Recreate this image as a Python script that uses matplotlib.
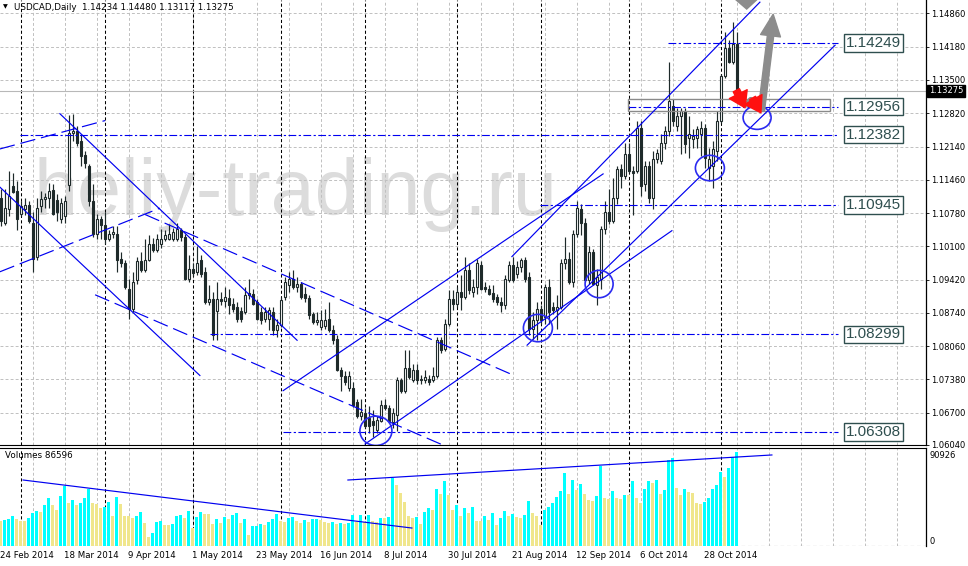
import matplotlib
matplotlib.use("Agg")
import matplotlib.pyplot as plt
import matplotlib.transforms as mtransforms
from matplotlib import font_manager
from matplotlib.patches import Ellipse, FancyArrowPatch, Polygon, Rectangle
import numpy as np

# ---------------- data (USDCAD daily, 24 Feb 2014 .. 7 Nov 2014) ----------------
opens = [1.1108, 1.1057, 1.1086, 1.1133, 1.1123, 1.1077, 1.1086, 1.1094, 1.1057, 1.0989,
         1.1092, 1.1106, 1.1108, 1.1125, 1.1104, 1.1065, 1.1071, 1.1135, 1.1242, 1.1246,
         1.1225, 1.1197, 1.1174, 1.1102, 1.1036, 1.1065, 1.1053, 1.1026, 1.1036, 1.1036,
         1.0985, 1.0975, 1.0923, 1.0882, 1.0942, 1.0979, 1.0962, 1.0983, 1.1014, 1.1003,
         1.1014, 1.1026, 1.1026, 1.1024, 1.1024, 1.1044, 1.1030, 1.0944, 1.0964, 1.0958,
         1.0983, 1.0958, 1.0896, 1.0902, 1.0878, 1.0902, 1.0898, 1.0905, 1.0892, 1.0886,
         1.0878, 1.0876, 1.0911, 1.0913, 1.0896, 1.0876, 1.0861, 1.0861, 1.0876, 1.0839,
         1.0849, 1.0907, 1.0931, 1.0944, 1.0927, 1.0933, 1.0913, 1.0905, 1.0872, 1.0855,
         1.0845, 1.0847, 1.0861, 1.0839, 1.0820, 1.0758, 1.0744, 1.0721, 1.0721, 1.0691,
         1.0664, 1.0670, 1.0660, 1.0654, 1.0635, 1.0654, 1.0685, 1.0680, 1.0650, 1.0666,
         1.0736, 1.0715, 1.0761, 1.0736, 1.0758, 1.0736, 1.0736, 1.0738, 1.0736, 1.0744,
         1.0818, 1.0800, 1.0851, 1.0902, 1.0892, 1.0917, 1.0907, 1.0962, 1.0917, 1.0927,
         1.0972, 1.0927, 1.0923, 1.0915, 1.0907, 1.0896, 1.0890, 1.0942, 1.0972, 1.0954,
         1.0968, 1.0983, 1.0948, 1.0841, 1.0859, 1.0882, 1.0865, 1.0927, 1.0886, 1.0880,
         1.0886, 1.0975, 1.0985, 1.0937, 1.1036, 1.1086, 1.1057, 1.0942, 1.0999, 1.0931,
         1.0944, 1.1046, 1.1081, 1.1061, 1.1108, 1.1168, 1.1153, 1.1199, 1.1164, 1.1164,
         1.1252, 1.1137, 1.1174, 1.1108, 1.1188, 1.1184, 1.1221, 1.1246, 1.1297, 1.1256,
         1.1277, 1.1287, 1.1231, 1.1229, 1.1231, 1.1240, 1.1252, 1.1170, 1.1174, 1.1205,
         1.1267, 1.1359, 1.1415, 1.1386, 1.14234]
highs = [1.1127, 1.1127, 1.1164, 1.1160, 1.1143, 1.1102, 1.1108, 1.1102, 1.1081, 1.1108,
         1.1123, 1.1118, 1.1139, 1.1137, 1.1116, 1.1108, 1.1113, 1.1279, 1.1281, 1.1256,
         1.1240, 1.1205, 1.1178, 1.1137, 1.1077, 1.1071, 1.1081, 1.1044, 1.1051, 1.1051,
         1.0999, 1.0983, 1.0944, 1.0958, 1.0989, 1.0999, 1.1024, 1.1034, 1.1028, 1.1036,
         1.1046, 1.1044, 1.1055, 1.1048, 1.1057, 1.1048, 1.1036, 1.0993, 1.0975, 1.1010,
         1.0993, 1.0968, 1.0931, 1.0917, 1.0937, 1.0917, 1.0927, 1.0923, 1.0905, 1.0896,
         1.0886, 1.0927, 1.0944, 1.0923, 1.0902, 1.0886, 1.0886, 1.0886, 1.0886, 1.0861,
         1.0907, 1.0948, 1.0958, 1.0962, 1.0948, 1.0937, 1.0927, 1.0911, 1.0876, 1.0876,
         1.0880, 1.0882, 1.0896, 1.0849, 1.0828, 1.0763, 1.0756, 1.0756, 1.0732, 1.0697,
         1.0697, 1.0680, 1.0684, 1.0676, 1.0664, 1.0695, 1.0697, 1.0686, 1.0680, 1.0742,
         1.0740, 1.0798, 1.0798, 1.0769, 1.0769, 1.0748, 1.0758, 1.0748, 1.0763, 1.0824,
         1.0824, 1.0861, 1.0921, 1.0921, 1.0927, 1.0952, 1.0989, 1.0975, 1.0944, 1.0985,
         1.0979, 1.0937, 1.0931, 1.0931, 1.0913, 1.0907, 1.0952, 1.0979, 1.0989, 1.0979,
         1.0987, 1.0989, 1.0958, 1.0876, 1.0896, 1.0890, 1.0933, 1.0944, 1.0896, 1.0911,
         1.0985, 1.1030, 1.0999, 1.1044, 1.1102, 1.1096, 1.1067, 1.1010, 1.1005, 1.0964,
         1.1051, 1.1102, 1.1127, 1.1149, 1.1174, 1.1178, 1.1221, 1.1221, 1.1174, 1.1267,
         1.1267, 1.1184, 1.1184, 1.1205, 1.1209, 1.1240, 1.1256, 1.1386, 1.1312, 1.1293,
         1.1293, 1.1293, 1.1277, 1.1250, 1.1256, 1.1267, 1.1260, 1.1211, 1.1225, 1.1287,
         1.1363, 1.1448, 1.1431, 1.1468, 1.14480]
lows = [1.1051, 1.1053, 1.1071, 1.1118, 1.1044, 1.1071, 1.1075, 1.1057, 1.0958, 1.0983,
        1.1081, 1.1088, 1.1088, 1.1075, 1.1061, 1.1057, 1.1057, 1.1123, 1.1225, 1.1215,
        1.1174, 1.1170, 1.1092, 1.1030, 1.1024, 1.1024, 1.1014, 1.1020, 1.1028, 1.0958,
        1.0968, 1.0923, 1.0861, 1.0876, 1.0933, 1.0958, 1.0958, 1.0979, 1.0999, 1.0999,
        1.1007, 1.1020, 1.1022, 1.1020, 1.1020, 1.1020, 1.0942, 1.0938, 1.0950, 1.0952,
        1.0948, 1.0892, 1.0890, 1.0818, 1.0818, 1.0890, 1.0886, 1.0872, 1.0876, 1.0855,
        1.0855, 1.0872, 1.0902, 1.0890, 1.0859, 1.0851, 1.0855, 1.0839, 1.0828, 1.0824,
        1.0845, 1.0900, 1.0917, 1.0923, 1.0917, 1.0902, 1.0896, 1.0861, 1.0851, 1.0849,
        1.0839, 1.0841, 1.0835, 1.0810, 1.0756, 1.0715, 1.0726, 1.0715, 1.0682, 1.0660,
        1.0656, 1.0639, 1.0629, 1.0621, 1.0629, 1.0650, 1.0676, 1.0650, 1.0639, 1.0633,
        1.0711, 1.0711, 1.0738, 1.0732, 1.0728, 1.0728, 1.0730, 1.0726, 1.0732, 1.0740,
        1.0793, 1.0796, 1.0847, 1.0880, 1.0886, 1.0880, 1.0903, 1.0913, 1.0907, 1.0913,
        1.0921, 1.0917, 1.0911, 1.0896, 1.0890, 1.0876, 1.0882, 1.0937, 1.0937, 1.0946,
        1.0958, 1.0937, 1.0828, 1.0820, 1.0818, 1.0851, 1.0851, 1.0851, 1.0872, 1.0841,
        1.0882, 1.0964, 1.0933, 1.0927, 1.1030, 1.1034, 1.0937, 1.0933, 1.0931, 1.0890,
        1.0923, 1.1036, 1.1055, 1.1057, 1.1096, 1.1129, 1.1147, 1.1160, 1.1075, 1.1160,
        1.1113, 1.1123, 1.1098, 1.1086, 1.1180, 1.1178, 1.1209, 1.1236, 1.1256, 1.1246,
        1.1199, 1.1201, 1.1190, 1.1211, 1.1211, 1.1195, 1.1170, 1.1143, 1.1129, 1.1184,
        1.1262, 1.1355, 1.1384, 1.1382, 1.13117]
closes = [1.1061, 1.1088, 1.1113, 1.1121, 1.1065, 1.1092, 1.1094, 1.1061, 1.0985, 1.1088,
          1.1106, 1.1110, 1.1123, 1.1077, 1.1081, 1.1098, 1.1102, 1.1242, 1.1246, 1.1221,
          1.1195, 1.1180, 1.1102, 1.1036, 1.1065, 1.1053, 1.1026, 1.1036, 1.1040, 1.0983,
          1.0975, 1.0927, 1.0882, 1.0937, 1.0979, 1.0962, 1.0983, 1.1014, 1.1003, 1.1024,
          1.1026, 1.1034, 1.1036, 1.1040, 1.1046, 1.1030, 1.0944, 1.0964, 1.0956, 1.0975,
          1.0954, 1.0896, 1.0902, 1.0828, 1.0902, 1.0898, 1.0907, 1.0890, 1.0882, 1.0861,
          1.0861, 1.0911, 1.0915, 1.0892, 1.0861, 1.0859, 1.0876, 1.0880, 1.0839, 1.0849,
          1.0900, 1.0937, 1.0944, 1.0927, 1.0933, 1.0907, 1.0905, 1.0870, 1.0855, 1.0859,
          1.0859, 1.0859, 1.0839, 1.0818, 1.0758, 1.0746, 1.0732, 1.0746, 1.0686, 1.0664,
          1.0672, 1.0643, 1.0643, 1.0645, 1.0656, 1.0685, 1.0680, 1.0654, 1.0670, 1.0736,
          1.0715, 1.0761, 1.0742, 1.0758, 1.0736, 1.0738, 1.0742, 1.0732, 1.0746, 1.0818,
          1.0798, 1.0851, 1.0902, 1.0892, 1.0917, 1.0907, 1.0962, 1.0921, 1.0927, 1.0975,
          1.0923, 1.0923, 1.0913, 1.0902, 1.0896, 1.0890, 1.0944, 1.0972, 1.0942, 1.0968,
          1.0983, 1.0944, 1.0841, 1.0859, 1.0882, 1.0859, 1.0927, 1.0876, 1.0880, 1.0886,
          1.0975, 1.0985, 1.0937, 1.1036, 1.1088, 1.1057, 1.0942, 1.0999, 1.0933, 1.0948,
          1.1046, 1.1081, 1.1061, 1.1108, 1.1168, 1.1153, 1.1199, 1.1164, 1.1160, 1.1252,
          1.1133, 1.1174, 1.1108, 1.1188, 1.1201, 1.1221, 1.1246, 1.1308, 1.1267, 1.1277,
          1.1287, 1.1219, 1.1240, 1.1236, 1.1250, 1.1252, 1.1190, 1.1188, 1.1209, 1.1267,
          1.1359, 1.1415, 1.1386, 1.1423, 1.13275]
volumes = [22950, 23562, 24480, 27846, 24786, 22950, 22644, 26010, 30600, 32130,
           31518, 37638, 44370, 37638, 33048, 45900, 55080, 39780, 42228, 37638,
           39168, 43758, 52020, 39780, 38250, 34578, 36108, 40086, 27540, 44676,
           38556, 27846, 27234, 26010, 27540, 31518, 21420, 8262, 11628, 22338,
           23256, 19278, 18972, 19890, 27846, 28458, 25398, 32130, 16218, 26928,
           30906, 29376, 29070, 20196, 24786, 21420, 26928, 24786, 28458, 29988,
           20808, 24786, 10098, 18360, 18666, 19890, 19278, 21726, 24786, 29376,
           23256, 21726, 25398, 26316, 22950, 21420, 23868, 21726, 24786, 25092,
           23868, 22338, 21420, 21726, 20196, 20808, 20196, 21420, 28458, 22338,
           28458, 22338, 28458, 22950, 22338,
           26010, 25704, 26928, 62118, 55998, 48348, 40698, 27846, 26010, 26928,
           20196, 31518, 35190, 33048, 52326, 47430, 59670, 46818, 33048, 37638,
           27846, 35190, 29988, 36108, 22950, 22644, 27540, 23868, 29988, 19278,
           26010, 32130, 27540, 29070, 26928, 26010, 28458, 41310, 29988, 27540,
           19278, 33048, 36108, 39780, 44676, 50490, 66708, 47430, 60588, 51408,
           56610, 47430, 42228, 41310, 46206, 73746, 43758, 43146, 50490, 43758,
           43146, 46818, 46512, 59670, 43758, 39168, 52326, 59670, 57528, 60588,
           47430, 51408, 78948, 80478, 52938, 46818, 52326, 49266, 48960, 39168,
           38862, 40086, 44370, 52326, 55998, 67626, 63648, 71298, 82008, 86596]

date_labels = ["24 Feb 2014", "18 Mar 2014", "9 Apr 2014", "1 May 2014", "23 May 2014",
               "16 Jun 2014", "8 Jul 2014", "30 Jul 2014", "21 Aug 2014", "12 Sep 2014",
               "6 Oct 2014", "28 Oct 2014"]
date_label_bars = [0, 16, 32, 48, 64, 80, 96, 112, 128, 144, 160, 176]
month_start_bars = [5, 26, 48, 70, 91, 114, 135, 157, 180]
price_grid = [1.14860, 1.14180, 1.13500, 1.12820, 1.12140, 1.11460, 1.10780,
              1.10100, 1.09420, 1.08740, 1.08060, 1.07380, 1.06700, 1.06040]
levels = [1.14249, 1.12956, 1.12382, 1.10945, 1.08299, 1.06308]
level_start_bars = [166.8, 156.8, 4.8, 134.8, 52.3, 70.6]
last_price = 1.13275
volume_max_label = "90926"
header = "USDCAD,Daily  1.14234 1.14480 1.13117 1.13275"

# drawn objects (bar index, price)
solid_lines = [((70.6, 1.0715), (150.6, 1.1158)),
               ((127.8, 1.0989), (189.8, 1.1509)),
               ((91.1, 1.0606), (167.8, 1.1042)),
               ((131.6, 1.0808), (208.6, 1.1421)),
               ((14.8, 1.1281), (74.1, 1.0818)),
               ((-0.2, 1.1131), (49.8, 1.0746))]
dashed_lines = [((-0.2, 1.1209), (26.1, 1.1267)),
                ((-0.2, 1.0958), (39.8, 1.1088)),
                ((23.6, 1.0911), (111.1, 1.0602)),
                ((36.1, 1.1075), (127.8, 1.0748))]
circles = [(93.8, 1.0633, 8.0, 0.0060), (134.3, 1.0843, 7.25, 0.0056),
           (149.6, 1.0933, 7.0, 0.0056), (177.3, 1.1170, 7.25, 0.0052),
           (189.1, 1.1273, 7.0, 0.0048)]
volume_lines = [((5.6, 60600), (102.8, 16500)), ((86.8, 60600), (192.8, 83600))]

# ---------------- figure ----------------
W, H = 968, 566
fig = plt.figure(figsize=(W / 100, H / 100), dpi=100)
fig.patch.set_facecolor("white")
ax = fig.add_axes([0, 1 - 445 / H, 926 / W, 445 / H])
axv = fig.add_axes([0, 1 - 546 / H, 926 / W, 98 / H])

XMIN, XMAX = -0.175, 231.325
CANDLE = "#1e2a2a"
BLUE = "#0000f0"
GRID = "#c0c0c0"

for a in (ax, axv):
    a.set_xlim(XMIN, XMAX)
    a.set_facecolor("white")
    a.set_xticks([])
    for s in ("left", "top", "bottom", "right"):
        a.spines[s].set_visible(False)
    a.spines["right"].set_visible(True)
    a.spines["right"].set_color("black")
    a.spines["right"].set_linewidth(0.9)
    for b in range(8, 232, 8):
        a.axvline(b, color=GRID, lw=0.7, dashes=(3, 2.2), zorder=1)
    for b in month_start_bars:
        a.axvline(b, color="black", lw=0.75, dashes=(3, 2.2), zorder=1.5)

ax.spines["bottom"].set_visible(True)
ax.spines["bottom"].set_color("black")
axv.spines["top"].set_visible(True)
axv.spines["top"].set_color("black")

ax.set_ylim(1.06080, 1.15134)
for lv in price_grid:
    ax.axhline(lv, color=GRID, lw=0.7, dashes=(3, 2.2), zorder=1)

ax.yaxis.tick_right()
ax.set_yticks(price_grid)
ax.set_yticklabels([f"{v:.5f}" for v in price_grid])
ax.tick_params(axis="y", length=2.2, width=0.6, pad=1.2, labelsize=6.0, colors="black")

# watermark (narrow sans if available)
names = {f.name for f in font_manager.fontManager.ttflist}
if "Liberation Sans Narrow" in names:
    wm_family, wm_size = "Liberation Sans Narrow", 70
else:
    wm_family, wm_size = "Liberation Sans", 57
ax.text(8.3, 1.1075, "heliy-trading.ru", fontsize=wm_size, color="#dcdcdc",
        family=wm_family, va="baseline", ha="left", zorder=0.5)

# candles
o = np.array(opens); h = np.array(highs); l = np.array(lows); c = np.array(closes)
x = np.arange(len(c))
up = c >= o
ax.vlines(x, l, h, color=CANDLE, lw=0.85, zorder=3)
ax.bar(x[up], (c - o)[up], bottom=o[up], width=0.5, facecolor="white",
       edgecolor=CANDLE, lw=0.8, zorder=4)
ax.bar(x[~up], (o - c)[~up], bottom=c[~up], width=0.5, facecolor=CANDLE,
       edgecolor=CANDLE, lw=0.8, zorder=4)

# current price line + tag
ax.axhline(last_price, color="#b8b8b8", lw=0.8, zorder=2)
ax.annotate(f"{last_price:.5f}", xy=(1, last_price), xycoords=("axes fraction", "data"),
            xytext=(2.2, 0), textcoords="offset points", va="center", ha="left",
            fontsize=6.0, color="white", annotation_clip=False,
            bbox=dict(boxstyle="square,pad=0.2", fc="black", ec="black"))

# horizontal levels with boxed labels
for lv, sb in zip(levels, level_start_bars):
    ax.plot([sb, 209.3], [lv, lv], color=BLUE, lw=0.8, dashes=(7, 2.2, 2, 2.2), zorder=5)
    ax.text(211.3, lv, f"{lv:.5f}", fontsize=11, family="Liberation Sans", color="#2f4f4f",
            va="center", ha="left", zorder=7,
            bbox=dict(boxstyle="square,pad=0.12", fc="white", ec="#2f4f4f", lw=1.0))

# gray zone rectangle
ax.add_patch(Rectangle((156.8, 1.12871), 50.5, 1.13118 - 1.12871, fill=False,
                       ec="#8a8a8a", lw=1.0, zorder=5))

for (p0, p1) in solid_lines:
    ax.plot([p0[0], p1[0]], [p0[1], p1[1]], color=BLUE, lw=0.85, zorder=5)
for (p0, p1) in dashed_lines:
    ax.plot([p0[0], p1[0]], [p0[1], p1[1]], color=BLUE, lw=0.85, dashes=(13, 5), zorder=5)
for (cx, cy, w, hh) in circles:
    ax.add_patch(Ellipse((cx, cy), w, hh, fill=False, ec="#2a2af0", lw=1.2, zorder=6))

# arrows
ax.add_patch(FancyArrowPatch((185.9, 1.1295), (188.0, 1.1314), arrowstyle="-",
                             color="#8c8c8c", lw=4, zorder=7))
ax.add_patch(FancyArrowPatch((183.6, 1.1334), (186.4, 1.1288),
                             arrowstyle="simple,head_width=1.3,head_length=1.0,tail_width=0.45",
                             mutation_scale=11, color="#ff1010", zorder=8))
ax.add_patch(FancyArrowPatch((187.6, 1.1318), (190.4, 1.1278),
                             arrowstyle="simple,head_width=1.3,head_length=1.0,tail_width=0.45",
                             mutation_scale=11, color="#ff1010", zorder=8))
ax.add_patch(FancyArrowPatch((190.1, 1.1283), (193.2, 1.1490),
                             arrowstyle="simple,head_width=1.2,head_length=1.3,tail_width=0.38",
                             mutation_scale=12, color="#8c8c8c", zorder=7))
ax.add_patch(Polygon([(183.6, 1.15134), (189.2, 1.15134), (186.5, 1.1493)], closed=True,
                     fc="#8c8c8c", ec="none", zorder=7))

# ---------------- volumes ----------------
vol = np.array(volumes)
inc = np.r_[False, vol[1:] > vol[:-1]]
vcol = np.where(inc, "#00ffff", "#f0e68c")
axv.set_ylim(0, 90000)
axv.set_yticks([])
axv.axhline(0, color=GRID, lw=0.9, dashes=(3, 2.2), zorder=1)
axv.bar(x, vol, width=0.82, color=vcol, lw=0, zorder=3)
for (p0, p1) in volume_lines:
    axv.plot([p0[0], p1[0]], [p0[1], p1[1]], color=BLUE, lw=0.85, zorder=5)
axv.text(1.004, 0.92, volume_max_label, transform=axv.transAxes, fontsize=6.0,
         va="center", ha="left")
axv.text(1.004, 0.05, "0", transform=axv.transAxes, fontsize=6.0, va="center", ha="left")

# date labels
tr = mtransforms.blended_transform_factory(axv.transData, fig.transFigure)
for b, lab in zip(date_label_bars, date_labels):
    axv.text(b - 0.3, 1 - 556 / H, lab, transform=tr, fontsize=6.2, va="center",
             ha="left", clip_on=False)

fig.text(3 / W, 1 - 7 / H, "\u25bc", fontsize=4.5, va="center", ha="left")
fig.text(14 / W, 1 - 7 / H, header, fontsize=6.3, va="center", ha="left")
fig.text(5 / W, 1 - 456 / H, f"Volumes {volumes[-1]}", fontsize=6.3, va="center", ha="left")

fig.savefig("out.png", dpi=100, facecolor="white")
